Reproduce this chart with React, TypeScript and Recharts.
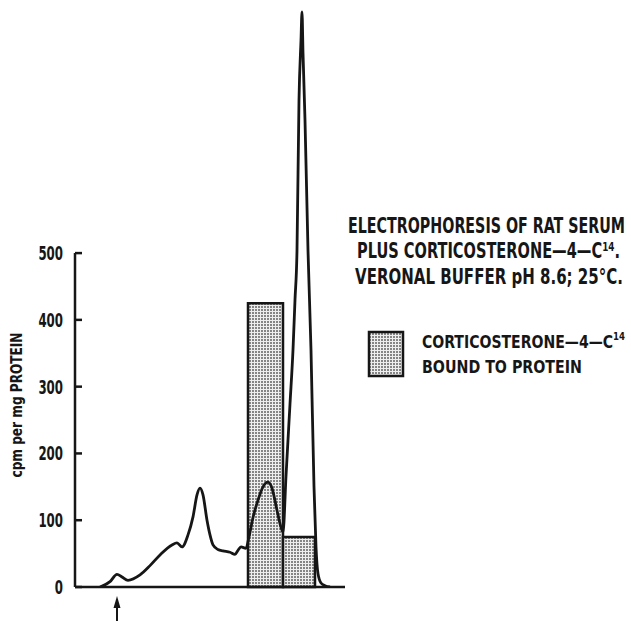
import React from "react";
import { ComposedChart, Line, XAxis, YAxis, ReferenceArea, ReferenceLine, Customized } from "recharts";

// migration distance along the strip (1 unit = 1 mm) and the scanned radioactivity
const migration = [
  2.5, 3.5, 4.2, 4.7, 5.3, 6.5, 7.5, 8.5, 9.7, 10.2, 10.7, 11.3, 11.8, 12.2, 12.5,
  12.8, 13.2, 13.5, 13.8, 14.3, 14.8, 15.5, 16.0, 16.3, 16.6, 17.1, 17.4, 17.8, 18.3,
  18.8, 19.3, 19.7, 20.2, 20.5, 20.8, 21.1, 21.5, 21.8, 22.0, 22.2, 22.4, 22.6, 22.7,
  22.8, 23.0, 23.3, 23.6, 23.9, 24.1, 24.3, 24.6, 25.0, 25.5,
];
const cpm = [
  0, 8, 19, 15, 10, 18, 32, 48, 63, 66, 60, 78, 105, 138, 148,
  138, 100, 78, 63, 56, 54, 52, 49, 55, 60, 58, 75, 104, 130,
  150, 157, 148, 115, 95, 82, 166, 274, 355, 430, 504, 729, 819, 861,
  800, 699, 504, 355, 150, 60, 20, 6, 2, 0,
];

// eluted fractions: corticosterone bound to protein
const boundFrom = [17.3, 20.8];
const boundTo = [20.8, 24.0];
const boundCpm = [425, 75];

const yTicks = [0, 100, 200, 300, 400, 500];
const originMark = [4.2];

const profile = migration.map((x, i) => ({ x, cpm: cpm[i] }));

const INK = "#161616";
const FONT = "'Liberation Sans Narrow', 'DejaVu Sans Condensed', 'Arial Narrow', sans-serif";

const CpmTick = (props: any) => {
  const { x, y, payload } = props;
  const label = String(payload.value);
  return (
    <g>
      <line x1={x + 12} x2={x + 19} y1={y} y2={y} stroke={INK} strokeWidth={2.5} />
      <text
        x={x}
        y={y}
        dy="0.37em"
        textAnchor="end"
        fontFamily={FONT}
        fontWeight="bold"
        fontSize={19}
        fill={INK}
        textLength={label.length * 8.2}
        lengthAdjust="spacingAndGlyphs"
      >
        {label}
      </text>
    </g>
  );
};

// arrow under the strip marking the point of application
const OriginArrow = (props: any) => {
  const { x, y } = props;
  return (
    <g>
      <line x1={x} x2={x} y1={y + 18} y2={y + 34} stroke={INK} strokeWidth={2} />
      <polygon points={`${x},${y + 9} ${x - 3.5},${y + 21} ${x + 3.5},${y + 21}`} fill={INK} />
    </g>
  );
};

// tall, narrow lettering: small font stretched upward from its baseline
const TallText = ({ x, y, size, sy, len, children }: any) => (
  <text
    transform={`translate(${x} ${y}) scale(1 ${sy})`}
    fontSize={size}
    textLength={len}
    lengthAdjust="spacingAndGlyphs"
  >
    {children}
  </text>
);

const Notes = () => (
  <g fontFamily={FONT} fontWeight="bold" fill={INK}>
    <defs>
      <pattern id="stipple" width={3} height={3} patternUnits="userSpaceOnUse">
        <rect width={3} height={3} fill="#eeeeee" />
        <rect width={2} height={2} fill="#858585" />
      </pattern>
    </defs>
    <text x={22} y={405} transform="rotate(-90 22 405)" textAnchor="middle" fontSize={16} textLength={145} lengthAdjust="spacingAndGlyphs">
      cpm per mg PROTEIN
    </text>
    <TallText x={348} y={233} size={16} sy={1.28} len={277}>ELECTROPHORESIS OF RAT SERUM</TallText>
    <TallText x={357} y={258} size={16.5} sy={1.24} len={263}>
      PLUS CORTICOSTERONE—4—C<tspan fontSize={10} dy={-6}>14</tspan><tspan dy={6}>.</tspan>
    </TallText>
    <TallText x={355} y={284} size={16.5} sy={1.24} len={268}>VERONAL BUFFER pH 8.6; 25°C.</TallText>
    <rect x={369} y={332} width={34} height={44} fill="url(#stipple)" stroke={INK} strokeWidth={2.5} />
    <TallText x={422} y={348} size={15.5} sy={1.16} len={203}>
      CORTICOSTERONE—4—C<tspan fontSize={9.5} dy={-7}>14</tspan>
    </TallText>
    <TallText x={422} y={373} size={15.5} sy={1.16} len={160}>BOUND TO PROTEIN</TallText>
  </g>
);

export default function App() {
  return (
    <div style={{ position: "absolute", left: 0, top: 0, background: "#fff" }}>
      <ComposedChart width={631} height={621} data={profile} margin={{ top: 6, right: 286, bottom: 0, left: 0 }}>
        <Customized component={Notes} />
        <XAxis
          type="number"
          dataKey="x"
          domain={[0, 27]}
          allowDataOverflow
          ticks={originMark}
          tick={<OriginArrow />}
          tickLine={false}
          tickSize={0}
          tickMargin={0}
          height={34}
          axisLine={{ stroke: INK, strokeWidth: 2.5 }}
        />
        <YAxis
          type="number"
          domain={[0, 870]}
          allowDataOverflow
          ticks={yTicks}
          tick={<CpmTick />}
          tickLine={false}
          tickSize={0}
          tickMargin={12}
          axisLine={false}
          width={75}
        />
        <ReferenceLine segment={[{ x: 0, y: 0 }, { x: 0, y: 500 }]} stroke={INK} strokeWidth={2.5} />
        {boundCpm.map((v, i) => (
          <ReferenceArea
            key={i}
            x1={boundFrom[i]}
            x2={boundTo[i]}
            y1={0}
            y2={v}
            fill="url(#stipple)"
            fillOpacity={1}
            stroke={INK}
            strokeWidth={2.5}
          />
        ))}
        <Line
          type="monotone"
          dataKey="cpm"
          stroke={INK}
          strokeWidth={2.8}
          dot={false}
          activeDot={false}
          isAnimationActive={false}
        />
      </ComposedChart>
    </div>
  );
}
